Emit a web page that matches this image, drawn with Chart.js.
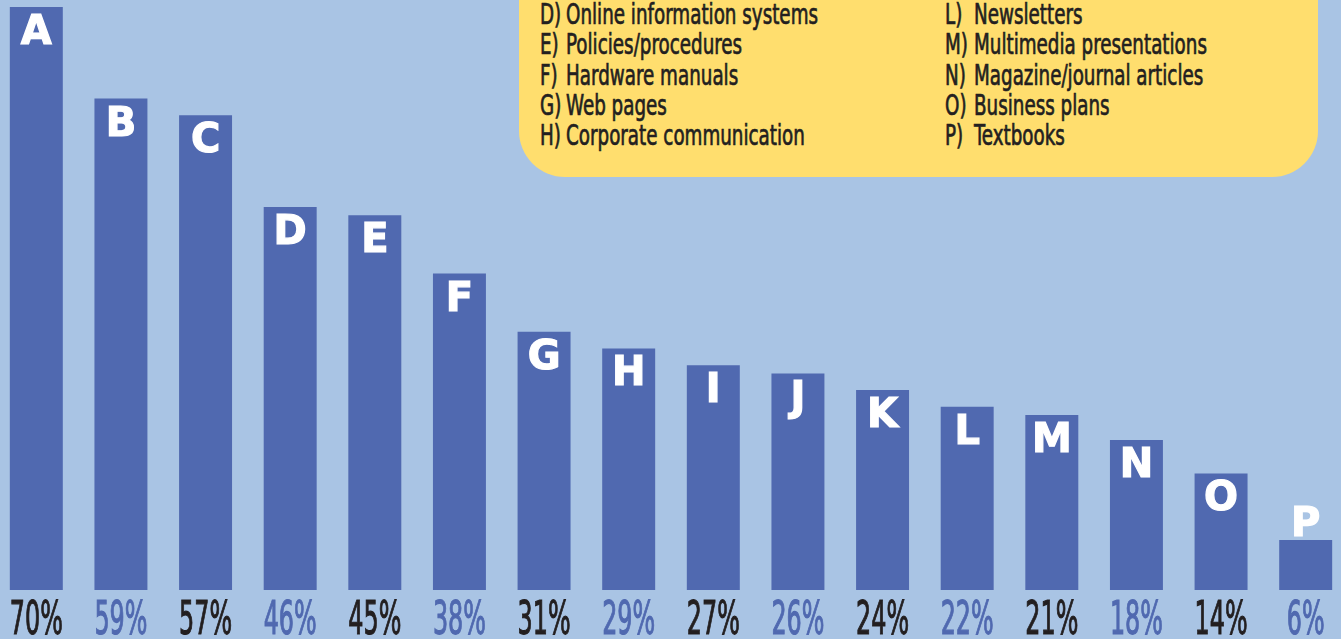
<!DOCTYPE html>
<html>
<head>
<meta charset="utf-8">
<title>Document types</title>
<script src="https://cdn.jsdelivr.net/npm/chart.js@4.4.1/dist/chart.umd.min.js"></script>
<style>
  html, body { margin: 0; padding: 0; width: 1341px; height: 639px; overflow: hidden; background: #a9c4e4; }
  #wrap { position: absolute; left: -6px; top: 0; width: 1354px; height: 639px; }
  #key {
    position: absolute; left: 519px; top: -60px; width: 799px; height: 237px;
    background: #ffde6e; border-radius: 0 0 46px 46px;
  }
  #key span {
    position: absolute; white-space: nowrap; color: #231f20;
    font: normal 28px "Liberation Sans Narrow", "DejaVu Sans Condensed", sans-serif;
    -webkit-text-stroke: 0.7px #231f20;
    line-height: 30.25px; transform-origin: 0 0;
  }
</style>
</head>
<body>
<div id="wrap"><canvas id="chart" width="1354" height="639"></canvas></div>
<div id="key"></div>
<script>
// categories and values
const LETTERS = ['A', 'B', 'C', 'D', 'E', 'F', 'G', 'H', 'I', 'J', 'K', 'L', 'M', 'N', 'O', 'P'];
const SHARES = [70, 59, 57, 46, 45, 38, 31, 29, 27, 26, 24, 22, 21, 18, 14, 6];

// key entries visible in the yellow box
const KEY_LEFT = [
    ['D)', 'Online information systems'],
    ['E)', 'Policies/procedures'],
    ['F)', 'Hardware manuals'],
    ['G)', 'Web pages'],
    ['H)', 'Corporate communication'],
];
const KEY_RIGHT = [
    ['L)', 'Newsletters'],
    ['M)', 'Multimedia presentations'],
    ['N)', 'Magazine/journal articles'],
    ['O)', 'Business plans'],
    ['P)', 'Textbooks'],
];

const BAR_COLOR = '#5069b0';
const DARK_TEXT = '#231f20';
const LABEL_FONT = '"Liberation Sans Narrow", "DejaVu Sans Condensed", sans-serif';

/* ── yellow key box ── */
function buildKey() {
    const key = document.getElementById('key');
    const c = document.createElement('canvas').getContext('2d');
    c.font = 'normal 28px ' + LABEL_FONT;
    const sx = 252 / c.measureText(KEY_LEFT[0][1]).width;
    const cols = [
        { rows: KEY_LEFT, letterX: 21, textX: 47 },
        { rows: KEY_RIGHT, letterX: 426, textX: 455 },
    ];
    cols.forEach(col => {
        col.rows.forEach((row, i) => {
            const top = 60 + i * 30.25;
            [[row[0], col.letterX], [row[1], col.textX]].forEach(([txt, x]) => {
                const s = document.createElement('span');
                s.textContent = txt;
                s.style.left = x + 'px';
                s.style.top = top + 'px';
                s.style.transform = `scaleX(${sx})`;
                key.appendChild(s);
            });
        });
    });
}
buildKey();

/* ── letters on the bars, percentages under them ── */
const barMarks = {
    id: 'barMarks',
    afterDatasetsDraw(chart) {
        const ctx = chart.ctx;
        const bars = chart.getDatasetMeta(0).data;
        ctx.save();
        ctx.textAlign = 'center';
        ctx.textBaseline = 'alphabetic';

        ctx.font = 'bold 40px "DejaVu Sans", sans-serif';
        ctx.fillStyle = '#ffffff';
        ctx.strokeStyle = '#ffffff';
        ctx.lineWidth = 1.2;
        bars.forEach((bar, i) => {
            const h = bar.base - bar.y;
            const y = h < 60 ? bar.y - 4 : bar.y + 37;
            ctx.fillText(LETTERS[i], bar.x, y);
            ctx.strokeText(LETTERS[i], bar.x, y);
        });

        ctx.font = 'normal 46px ' + LABEL_FONT;
        const sx = 53 / ctx.measureText('70%').width;
        ctx.lineWidth = 1.1;
        bars.forEach((bar, i) => {
            ctx.save();
            ctx.translate(bar.x, chart.chartArea.bottom + 44);
            ctx.scale(sx, 1);
            ctx.fillStyle = ctx.strokeStyle = i % 2 ? BAR_COLOR : DARK_TEXT;
            ctx.fillText(SHARES[i] + '%', 0, 0);
            ctx.strokeText(SHARES[i] + '%', 0, 0);
            ctx.restore();
        });
        ctx.restore();
    },
};

new Chart(document.getElementById('chart').getContext('2d'), {
    type: 'bar',
    data: {
        labels: LETTERS,
        datasets: [{
            data: SHARES,
            backgroundColor: BAR_COLOR,
            borderWidth: 0,
            barPercentage: 0.626,
            categoryPercentage: 1,
        }],
    },
    options: {
        responsive: false,
        animation: false,
        layout: { padding: { top: 7, bottom: 49, left: 0, right: 0 } },
        plugins: { legend: { display: false }, tooltip: { enabled: false } },
        scales: {
            x: { display: false },
            y: { display: false, min: 0, max: 70 },
        },
    },
    plugins: [barMarks],
});
</script>
</body>
</html>
